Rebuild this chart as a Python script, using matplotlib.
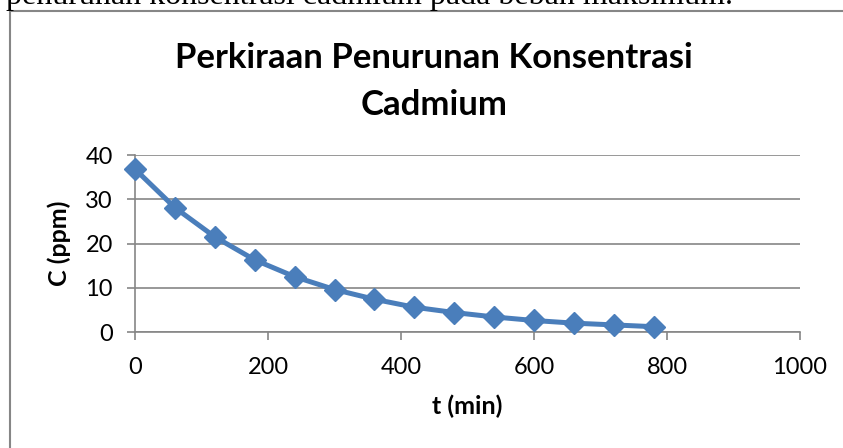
import matplotlib.pyplot as plt
from matplotlib.patches import Rectangle

# waktu pengamatan (menit) dan konsentrasi cadmium (ppm)
t_min = [0, 60, 120, 180, 240, 300, 360, 420, 480, 540, 600, 660, 720, 780]
c_ppm = [36.8, 28.1, 21.5, 16.3, 12.5, 9.6, 7.4, 5.6, 4.4, 3.4, 2.6, 2.0, 1.6, 1.2]

x_ticks = [0, 200, 400, 600, 800, 1000]
y_ticks = [0, 10, 20, 30, 40]

excelBlue = "#4A7EBB"
gridGray = "#868686"

W, H = 843, 448
fig = plt.figure(figsize=(W / 100, H / 100), dpi=100)

# potongan kalimat dokumen di atas grafik
fig.text(6 / W, 1 - 4 / H, "penurunan konsentrasi cadmium pada beban maksimum.",
         family="Liberation Serif", fontsize=23, ha="left", va="baseline")

# bingkai chart area
fig.patches.append(Rectangle((10 / W, -0.1), 1.2, 1 - 11 / H + 0.1, transform=fig.transFigure,
                             fill=False, edgecolor=gridGray, linewidth=1.5, zorder=0))

ax = fig.add_axes([135 / W, 1 - 332 / H, 665 / W, 177 / H])

ax.plot(t_min, c_ppm, color=excelBlue, linewidth=3.6, marker="D", markersize=11,
        markerfacecolor=excelBlue, markeredgecolor=excelBlue, clip_on=False, zorder=3)

ax.set_xlim(0, 1000)
ax.set_ylim(0, 40)
ax.set_xticks(x_ticks)
ax.set_yticks(y_ticks)
ax.tick_params(labelsize=17, colors=gridGray, labelcolor="black", length=6, width=1.2,
               direction="out")
for lbl in ax.get_xticklabels() + ax.get_yticklabels():
    lbl.set_family("Lato")
ax.tick_params(axis="x", pad=12)
ax.tick_params(axis="y", pad=10)

ax.grid(axis="y", color=gridGray, linewidth=1.2)
ax.set_axisbelow(True)
ax.spines[["right", "top"]].set_visible(False)
ax.spines["left"].set_color(gridGray)
ax.spines["bottom"].set_color(gridGray)
ax.spines["left"].set_linewidth(1.2)
ax.spines["bottom"].set_linewidth(1.2)

ax.set_xlabel("t (min)", family="Lato", fontweight="bold", fontsize=18, labelpad=12)
ax.set_ylabel("C (ppm)", family="Lato", fontweight="bold", fontsize=18, labelpad=10)

# judul dua baris
fig.text(434 / W, 1 - 68 / H, "Perkiraan Penurunan Konsentrasi", family="Lato",
         fontweight="bold", fontsize=25, ha="center", va="baseline")
fig.text(434 / W, 1 - 115 / H, "Cadmium", family="Lato",
         fontweight="bold", fontsize=25, ha="center", va="baseline")

fig.savefig("out.png", dpi=100)
